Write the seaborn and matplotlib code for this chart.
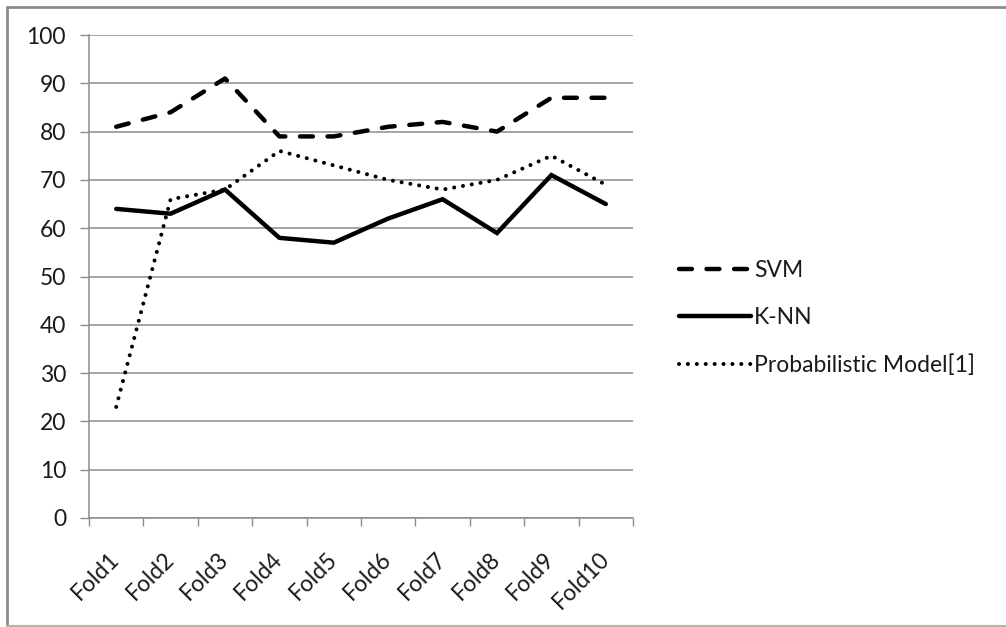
import numpy as np
import pandas as pd
import matplotlib
matplotlib.use("Agg")
import matplotlib.pyplot as plt
from matplotlib.lines import Line2D
from matplotlib.transforms import ScaledTranslation
import seaborn as sns

folds = ["Fold1", "Fold2", "Fold3", "Fold4", "Fold5",
         "Fold6", "Fold7", "Fold8", "Fold9", "Fold10"]
svm = [81, 84, 91, 79, 79, 81, 82, 80, 87, 87]
knn = [64, 63, 68, 58, 57, 62, 66, 59, 71, 65]
prob_model = [23, 66, 68, 76, 73, 70, 68, 70, 75, 69]
y_ticks = [0, 10, 20, 30, 40, 50, 60, 70, 80, 90, 100]

sns.set_theme(style="white")
plt.rcParams["font.family"] = ["Lato", "DejaVu Sans"]

W, H, DPI = 1006, 627, 100
FS = 16.5
TXT = "#1a1a1a"
fig = plt.figure(figsize=(W / DPI, H / DPI), dpi=DPI)
ax = fig.add_axes([89 / W, 1 - 518 / H, (633 - 89) / W, (518 - 35) / H])

df = pd.DataFrame({"fold": folds, "SVM": svm, "K-NN": knn,
                   "Probabilistic Model[1]": prob_model})
df["pos"] = np.arange(len(folds))

grey = "#8c8c8c"
DASH = (0, (2.9, 3.3))
DOT = (0, (0.01, 2.2))
sns.lineplot(data=df, x="pos", y="SVM", ax=ax, color="black", linewidth=3.2)
sns.lineplot(data=df, x="pos", y="K-NN", ax=ax, color="black", linewidth=3.2)
sns.lineplot(data=df, x="pos", y="Probabilistic Model[1]", ax=ax,
             color="black", linewidth=2.9)

l_svm, l_knn, l_prob = ax.lines[:3]
l_svm.set_linestyle(DASH)
l_svm.set_dash_capstyle("round")
l_knn.set_solid_capstyle("round")
l_knn.set_solid_joinstyle("miter")
l_prob.set_linestyle(DOT)
l_prob.set_dash_capstyle("round")

ax.set_xlim(-0.5, len(folds) - 0.5)
ax.set_ylim(0, 100)
ax.set_yticks(y_ticks)
ax.set_yticklabels([str(v) for v in y_ticks])
ax.set_xticks(np.arange(-0.5, len(folds), 1.0))
ax.set_xticklabels([])
ax.set_xticks(np.arange(len(folds)), minor=True)
ax.set_xticklabels(folds, minor=True, rotation=45, ha="right",
                   rotation_mode="anchor", va="center")
shift = ScaledTranslation(7 / 72, 0, fig.dpi_scale_trans)
for lab in ax.get_xticklabels(minor=True):
    lab.set_transform(lab.get_transform() + shift)
ax.set_xlabel("")
ax.set_ylabel("")

ax.grid(axis="y", color=grey, linewidth=1.1)
ax.grid(axis="x", visible=False)
ax.set_axisbelow(True)
for side in ("top", "right"):
    ax.spines[side].set_visible(False)
for side in ("left", "bottom"):
    ax.spines[side].set_color(grey)
    ax.spines[side].set_linewidth(1.1)

ax.tick_params(axis="y", which="major", length=6.5, width=1.0, color=grey,
               pad=10, labelsize=FS, labelcolor=TXT, left=True)
ax.tick_params(axis="x", which="major", length=6, width=1.0, color=grey,
               bottom=True)
ax.tick_params(axis="x", which="minor", length=0, pad=27, labelsize=FS,
               labelcolor=TXT)

handles = [
    Line2D([], [], color="black", linewidth=3.2, linestyle=DASH,
           dash_capstyle="round"),
    Line2D([], [], color="black", linewidth=3.2),
    Line2D([], [], color="black", linewidth=2.9, linestyle=DOT,
           dash_capstyle="round"),
]
labels = ["SVM", "K-NN", "Probabilistic Model[1]"]
if ax.get_legend() is not None:
    ax.get_legend().remove()
fig.legend(handles, labels, loc="center left",
           bbox_to_anchor=(668 / W, 1 - 318 / H), frameon=False,
           fontsize=FS, handlelength=3.1, handletextpad=0.15,
           labelspacing=1.15, borderpad=0, labelcolor=TXT)

# outer frame of the figure
frame_kw = dict(color="#8c8c8c", linewidth=2.0, transform=fig.transFigure)
fig.add_artist(Line2D([6.5 / W, 1.0], [1 - 6.5 / H, 1 - 6.5 / H], **frame_kw))
fig.add_artist(Line2D([6.5 / W, 6.5 / W], [1 - 6.5 / H, 1 - 625.5 / H], **frame_kw))
fig.add_artist(Line2D([6.5 / W, 1.0], [1 - 625.5 / H, 1 - 625.5 / H],
                      color="#b4b4b4", linewidth=1.5, transform=fig.transFigure))

fig.savefig("out.png", dpi=DPI)
